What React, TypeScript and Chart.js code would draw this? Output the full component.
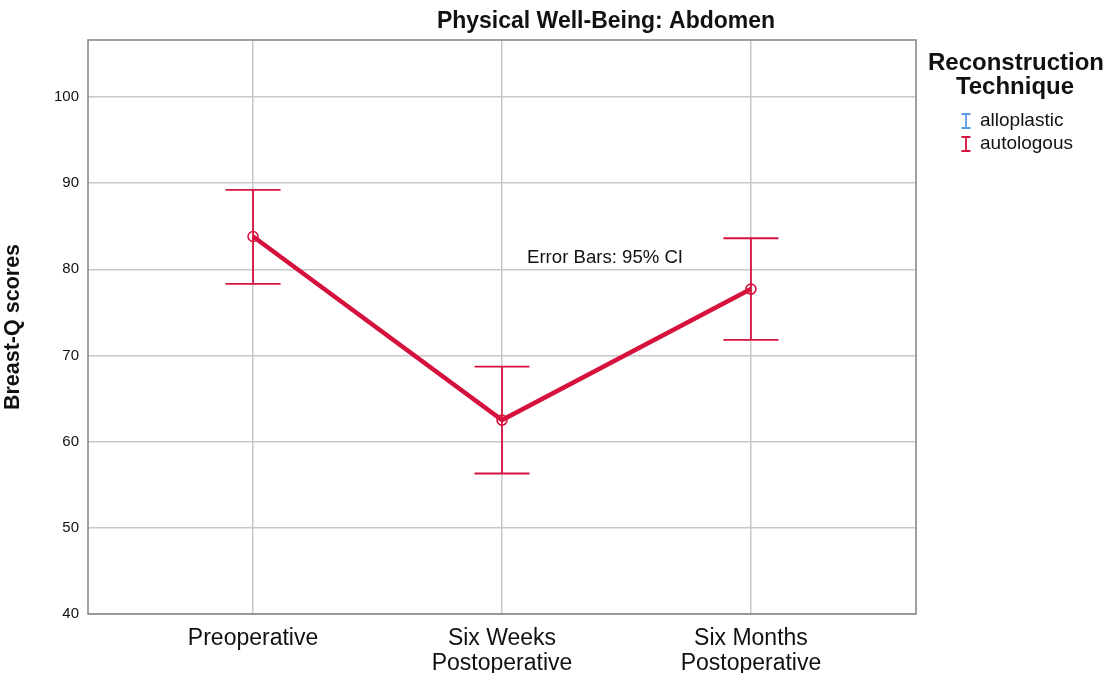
import React, { useEffect, useRef } from "react";
import { Chart, registerables } from "chart.js";
Chart.register(...registerables);

const categories: string[][] = [["Preoperative"], ["Six Weeks", "Postoperative"], ["Six Months", "Postoperative"]];
const autologousMean = [83.8, 62.5, 77.7];
const autologousLower = [78.3, 56.3, 71.8];
const autologousUpper = [89.2, 68.7, 83.6];
const yTicks = [40, 50, 60, 70, 80, 90, 100];
const groups = ["alloplastic", "autologous"];
const chartTitle = "Physical Well-Being: Abdomen";
const legendTitle = ["Reconstruction", "Technique"];
const yTitle = "Breast-Q scores";
const note = "Error Bars: 95% CI";

const FONT = "'Liberation Sans', Arial, Helvetica, sans-serif";
const RED = "#d5123d";
const BLUE = "#5b9be6";
const groupColors = [BLUE, RED];

export default function App() {
  const ref = useRef<HTMLCanvasElement | null>(null);
  useEffect(() => {
    document.body.style.margin = "0";
    const canvas = ref.current!;
    const errorBars = {
      id: "errorBars",
      beforeDatasetsDraw(chart: any) {
        const { ctx, scales } = chart;
        const xs = scales.x, ys = scales.y;
        ctx.save();
        ctx.strokeStyle = RED;
        ctx.lineWidth = 1.8;
        autologousMean.forEach((_, i) => {
          const x = xs.getPixelForValue(i);
          const y1 = ys.getPixelForValue(autologousLower[i]);
          const y2 = ys.getPixelForValue(autologousUpper[i]);
          ctx.beginPath();
          ctx.moveTo(x, y1); ctx.lineTo(x, y2);
          ctx.moveTo(x - 27.5, y1); ctx.lineTo(x + 27.5, y1);
          ctx.moveTo(x - 27.5, y2); ctx.lineTo(x + 27.5, y2);
          ctx.stroke();
        });
        const a = chart.chartArea;
        ctx.strokeStyle = "#8a8a8a";
        ctx.lineWidth = 1.6;
        ctx.strokeRect(a.left, a.top, a.right - a.left, a.bottom - a.top);
        ctx.restore();
      },
      afterDraw(chart: any) {
        const { ctx } = chart;
        ctx.save();
        ctx.fillStyle = "#111";
        ctx.textAlign = "center";
        ctx.textBaseline = "middle";
        ctx.font = `bold 23px ${FONT}`;
        ctx.fillText(chartTitle, 606, 22);
        ctx.font = `bold 24px ${FONT}`;
        ctx.fillText(legendTitle[0], 1016, 63);
        ctx.fillText(legendTitle[1], 1015, 87);
        ctx.font = `19px ${FONT}`;
        ctx.textAlign = "left";
        groups.forEach((g, i) => {
          const y = 121 + i * 23;
          ctx.fillStyle = "#111";
          ctx.fillText(g, 980, y);
          ctx.strokeStyle = groupColors[i];
          ctx.lineWidth = 1.8;
          ctx.beginPath();
          ctx.moveTo(966, y - 7); ctx.lineTo(966, y + 7);
          ctx.moveTo(961.5, y - 7); ctx.lineTo(970.5, y - 7);
          ctx.moveTo(961.5, y + 7); ctx.lineTo(970.5, y + 7);
          ctx.stroke();
        });
        ctx.fillStyle = "#111";
        ctx.font = `18.6px ${FONT}`;
        ctx.fillText(note, 527, 258);
        ctx.restore();
      },
    };
    const chart = new Chart(canvas, {
      type: "line",
      data: {
        datasets: [
          {
            label: groups[1],
            data: autologousMean.map((v, i) => ({ x: i, y: v })),
            borderColor: RED,
            borderWidth: 4.5,
            pointRadius: 5,
            pointBorderWidth: 1.6,
            pointBackgroundColor: "rgba(255,255,255,0)",
            pointBorderColor: RED,
            tension: 0,
          },
        ],
      },
      options: {
        responsive: false,
        animation: false,
        layout: { padding: { top: 40, right: 192, left: 0, bottom: 0 } },
        plugins: { legend: { display: false }, title: { display: false }, tooltip: { enabled: false } },
        scales: {
          x: {
            type: "linear",
            min: -0.663,
            max: 2.663,
            afterBuildTicks: (s: any) => { s.ticks = categories.map((_, i) => ({ value: i })); },
            afterFit: (s: any) => { s.height = 59; },
            ticks: {
              callback: (v: any) => categories[v as number],
              font: { family: FONT, size: 23, lineHeight: 1.09 },
              color: "#111",
              padding: 12.5,
              maxRotation: 0,
            },
            grid: { color: "#c8c8c8", lineWidth: 1.5, drawTicks: false },
            border: { display: false },
          },
          y: {
            min: 40,
            max: 106.6,
            afterBuildTicks: (s: any) => { s.ticks = yTicks.map((v) => ({ value: v })); },
            afterFit: (s: any) => { s.width = 88; },
            ticks: {
              font: { family: FONT, size: 15 },
              color: "#111",
              padding: 9,
            },
            grid: { color: "#c8c8c8", lineWidth: 1.5, drawTicks: false },
            border: { display: false },
            title: {
              display: true,
              text: yTitle,
              font: { family: FONT, size: 21.5, weight: "bold" },
              color: "#111",
              padding: { top: 0, bottom: 12 },
            },
          },
        },
      },
      plugins: [errorBars],
    } as any);
    return () => chart.destroy();
  }, []);
  return (
    <div style={{ width: 1108, height: 673, background: "#fff" }}>
      <canvas ref={ref} width={1108} height={673} style={{ display: "block" }} />
    </div>
  );
}
